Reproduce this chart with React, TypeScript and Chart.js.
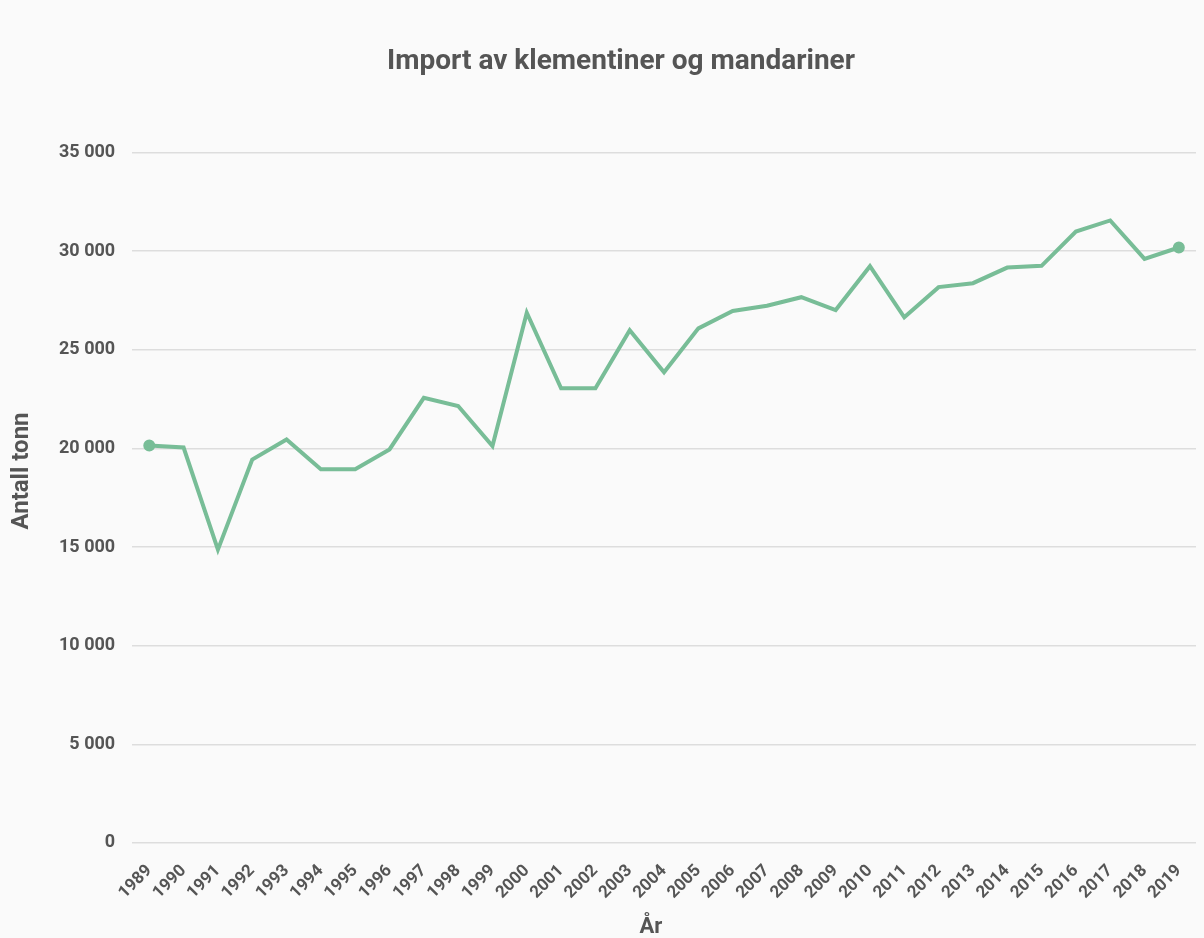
import React, { useEffect, useRef } from "react";
import { Chart, registerables } from "chart.js";

Chart.register(...registerables);

const years: string[] = [
  "1989", "1990", "1991", "1992", "1993", "1994", "1995", "1996", "1997", "1998",
  "1999", "2000", "2001", "2002", "2003", "2004", "2005", "2006", "2007", "2008",
  "2009", "2010", "2011", "2012", "2013", "2014", "2015", "2016", "2017", "2018", "2019",
];

const importTonn: number[] = [
  20150, 20050, 14870, 19440, 20460, 18950, 18950, 19950, 22570, 22150,
  20120, 26880, 23050, 23050, 26000, 23860, 26090, 26970, 27240, 27670,
  27020, 29240, 26650, 28180, 28380, 29170, 29260, 31000, 31560, 29610, 30190,
];

const chartTitle = "Import av klementiner og mandariner";
const yTitle = "Antall tonn";
const xTitle = "År";

const FONT = "Roboto";
const TEXT = "#555555";

const axisTitlesPlugin = {
  id: "axisTitlesPlugin",
  afterDraw(chart: any) {
    const ctx = chart.ctx;
    ctx.save();
    ctx.fillStyle = TEXT;
    ctx.textAlign = "center";
    ctx.textBaseline = "middle";
    // y-axis title
    ctx.save();
    ctx.translate(22, chart.height / 2 + 2);
    ctx.rotate(-Math.PI / 2);
    ctx.font = `bold 24px ${FONT}`;
    ctx.fillText(yTitle, 0, 0);
    ctx.restore();
    // x-axis title
    ctx.font = `bold 22px ${FONT}`;
    ctx.fillText(xTitle, chart.width / 2 + 49, chart.height - 11);
    ctx.restore();
  },
};

export default function App() {
  const ref = useRef<HTMLCanvasElement | null>(null);

  useEffect(() => {
    document.body.style.margin = "0";
    document.body.style.background = "#fafafa";
    if (!ref.current) return;
    const last = importTonn.length - 1;
    const chart = new Chart(ref.current, {
      type: "line",
      data: {
        labels: years,
        datasets: [
          {
            label: "Import",
            data: importTonn,
            borderColor: "#78bd97",
            backgroundColor: "#78bd97",
            borderWidth: 4,
            pointRadius: (c: any) => (c.dataIndex === 0 || c.dataIndex === last ? 4 : 0),
            pointHoverRadius: 4,
            tension: 0,
            borderJoinStyle: "miter",
          },
        ],
      },
      plugins: [axisTitlesPlugin],
      options: {
        animation: false,
        responsive: false,
        maintainAspectRatio: false,
        layout: { padding: { left: 42, right: 4, top: 0, bottom: 25 } },
        plugins: {
          legend: { display: false },
          tooltip: { enabled: false },
          title: {
            display: true,
            text: chartTitle,
            color: TEXT,
            font: { family: FONT, size: 28, weight: "bold" },
            padding: { top: 45, bottom: 74 },
          },
        },
        scales: {
          x: {
            offset: true,
            grid: { display: false },
            border: { display: false },
            ticks: {
              color: TEXT,
              font: { family: FONT, size: 17, weight: "bold" },
              maxRotation: 45,
              minRotation: 45,
              autoSkip: false,
              padding: 10,
            },
          },
          y: {
            min: 0,
            max: 35000,
            grid: { color: "#dddddd", lineWidth: 1.5, drawTicks: false },
            border: { display: false },
            ticks: {
              stepSize: 5000,
              color: TEXT,
              padding: 17,
              font: { family: FONT, size: 18, weight: "bold" },
              callback: (v: any) => Number(v).toLocaleString("en-US").replace(/,/g, " "),
            },
          },
        },
      },
    } as any);
    return () => chart.destroy();
  }, []);

  return (
    <div style={{ width: 1204, height: 938, background: "#fafafa" }}>
      <canvas ref={ref} width={1204} height={938} style={{ display: "block" }} />
    </div>
  );
}
